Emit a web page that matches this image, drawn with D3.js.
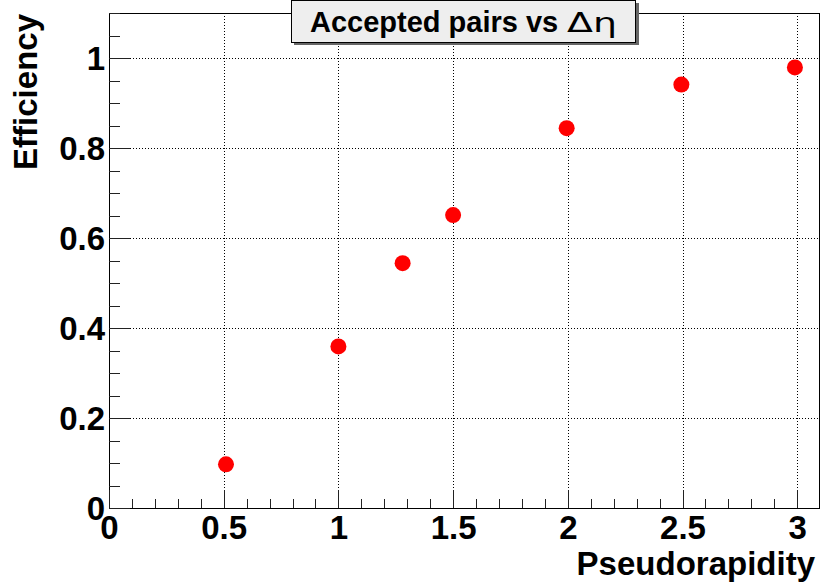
<!DOCTYPE html>
<html>
<head>
<meta charset="utf-8">
<script src="https://cdn.jsdelivr.net/npm/d3@7"></script>
<style>
body { margin: 0; background: #fff; }
text { font-family: "Liberation Sans", Arial, sans-serif; font-weight: bold; }
</style>
</head>
<body>
<div class="graph"></div>
<script>
// measured points (eta cut vs accepted fraction)
let etaValues = [0.51, 1.0, 1.28, 1.5, 1.995, 2.495, 2.99]
let efficiency = [0.097, 0.359, 0.544, 0.651, 0.844, 0.941, 0.979]

let xTicks = [0, 0.5, 1, 1.5, 2, 2.5, 3]
let yTicks = [0, 0.2, 0.4, 0.6, 0.8, 1]
let titleMain = 'Accepted pairs vs'
let titleSym = 'Δη'
let xTitle = 'Pseudorapidity'
let yTitle = 'Efficiency'

let width = 821,
    height = 585
let frame = { left: 109, right: 819, top: 13, bottom: 508 }

let x = d3.scaleLinear().domain([0, 3.095]).range([frame.left, frame.right])
let y = d3.scaleLinear().domain([0, 1.1]).range([frame.bottom, frame.top])

let svg = d3.select('.graph').append('svg')
    .attr('width', width)
    .attr('height', height)

// dotted grid at the major ticks
let grid = svg.append('g')
    .attr('stroke', '#000')
    .attr('stroke-width', 1)
    .attr('stroke-dasharray', '1,2')

grid.selectAll('.vgrid')
    .data(xTicks.filter(d => d > 0))
    .enter().append('line')
    .attr('x1', d => Math.round(x(d)) + 0.5)
    .attr('x2', d => Math.round(x(d)) + 0.5)
    .attr('y1', frame.top)
    .attr('y2', frame.bottom)

grid.selectAll('.hgrid')
    .data(yTicks.filter(d => d > 0))
    .enter().append('line')
    .attr('x1', frame.left)
    .attr('x2', frame.right)
    .attr('y1', d => Math.round(y(d)) + 0.5)
    .attr('y2', d => Math.round(y(d)) + 0.5)

// frame
svg.append('rect')
    .attr('x', frame.left + 0.5)
    .attr('y', frame.top + 0.5)
    .attr('width', frame.right - frame.left)
    .attr('height', frame.bottom - frame.top)
    .attr('fill', 'none')
    .attr('stroke', '#000')

// x axis: major ticks inward, minor every 0.1
let xMinor = d3.range(0, 31).map(d => d / 10).filter(d => d * 10 % 5 != 0)
svg.append('g')
    .attr('transform', 'translate(0,' + frame.bottom + ')')
    .call(d3.axisBottom(x).tickValues(xMinor).tickSize(-9).tickFormat(''))
    .call(g => g.select('.domain').remove())

svg.append('g')
    .attr('class', 'xaxis')
    .attr('transform', 'translate(0,' + frame.bottom + ')')
    .call(d3.axisBottom(x).tickValues(xTicks).tickSize(-18).tickPadding(0).tickFormat(d3.format('')))
    .call(g => g.select('.domain').remove())

svg.selectAll('.xaxis text')
    .attr('y', 31)
    .attr('dy', 0)
    .attr('font-size', 33)
    .attr('fill', '#000')

// y axis: major every 0.2, minor every 0.05
let yMinor = d3.range(0, 23).map(d => d * 0.05).filter((d, i) => i % 4 != 0)
svg.append('g')
    .attr('transform', 'translate(' + frame.left + ',0)')
    .call(d3.axisLeft(y).tickValues(yMinor).tickSize(-11).tickFormat(''))
    .call(g => g.select('.domain').remove())

svg.append('g')
    .attr('class', 'yaxis')
    .attr('transform', 'translate(' + frame.left + ',0)')
    .call(d3.axisLeft(y).tickValues(yTicks).tickSize(-21).tickPadding(4).tickFormat(d3.format('')))
    .call(g => g.select('.domain').remove())

svg.selectAll('.yaxis text')
    .attr('font-size', 33)
    .attr('fill', '#000')
    .attr('dy', '0.36em')

svg.selectAll('.tick line')
    .attr('stroke', '#222')
    .attr('shape-rendering', 'crispEdges')

// markers
svg.append('g').selectAll('circle')
    .data(etaValues)
    .enter().append('circle')
    .attr('cx', d => x(d))
    .attr('cy', (d, i) => y(efficiency[i]))
    .attr('r', 8)
    .attr('fill', '#ff0000')

// axis titles
svg.append('text')
    .attr('x', 815)
    .attr('y', 575)
    .attr('text-anchor', 'end')
    .attr('font-size', 33)
    .text(xTitle)

svg.append('text')
    .attr('transform', 'translate(37,14) rotate(-90)')
    .attr('text-anchor', 'end')
    .attr('font-size', 33)
    .text(yTitle)

// title box with shadow
svg.append('rect')
    .attr('x', 294)
    .attr('y', 3)
    .attr('width', 345)
    .attr('height', 42)
    .attr('fill', '#666')
svg.append('rect')
    .attr('x', 291.5)
    .attr('y', 0.5)
    .attr('width', 344)
    .attr('height', 42)
    .attr('fill', '#eeeeee')
    .attr('stroke', '#000')

let title = svg.append('text')
    .attr('x', 310)
    .attr('y', 32)
    .attr('font-size', 29)
title.append('tspan').text(titleMain)
title.append('tspan')
    .attr('x', 567)
    .attr('font-family', '"DejaVu Sans", sans-serif')
    .attr('font-weight', 'normal')
    .attr('font-size', 27)
    .attr('textLength', 50)
    .attr('lengthAdjust', 'spacingAndGlyphs')
    .text(titleSym)
</script>
</body>
</html>
